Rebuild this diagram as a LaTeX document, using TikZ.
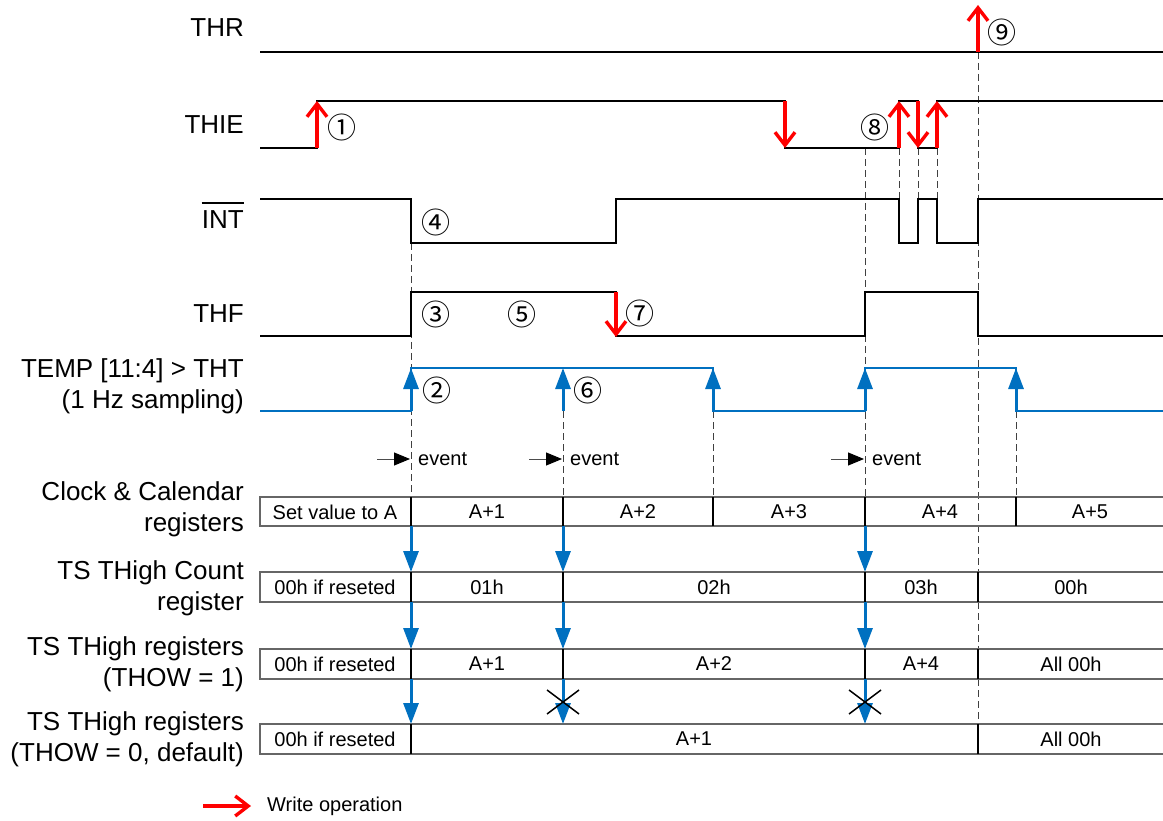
\documentclass[tikz,border=0pt]{standalone}
\usepackage{fontspec}
\setmainfont{Liberation Sans}
\newfontfamily\circfont{Noto Sans CJK JP}
\usetikzlibrary{arrows.meta}
\definecolor{tsblue}{RGB}{0,112,192}

\begin{document}
\begin{tikzpicture}[x=1pt, y=-1pt,
  sig/.style={line width=2.6pt, line join=miter},
  tmp/.style={line width=2.6pt, tsblue, line join=miter},
  wr/.style={red, line width=3.4pt, -{Straight Barb[length=13pt, width=20pt]}},
  smp/.style={tsblue, line width=3pt, -{Triangle[length=21pt, width=15pt]}},
  evt/.style={gray!60!black, line width=1pt, -{Triangle[length=16pt, width=13pt, fill=black, color=black]}},
  guide/.style={black!75, dash pattern=on 7pt off 4pt, line width=0.9pt},
  reg/.style={draw=black!60, line width=1.4pt},
  divider/.style={black, line width=1.1pt},
  lbl/.style={anchor=east, align=right, inner sep=0pt, font=\fontsize{26}{31}\selectfont},
  cell/.style={inner sep=0pt, font=\fontsize{20}{24}\selectfont},
  num/.style={inner sep=0pt, font=\circfont\fontsize{29}{32}\selectfont}]
  \useasboundingbox (0,0) rectangle (1163,821);

  % signal names (left)
  \node[lbl] (lThr)  at (244,28)  {THR};
  \node[lbl] (lThie) at (244,125) {THIE};
  \node[lbl] (lInt)  at (244,220) {INT};
  \draw[line width=1.4pt] ([yshift=8pt]lInt.north west) -- ([yshift=8pt]lInt.north east);
  \node[lbl] (lThf)  at (244,314) {THF};
  \node[lbl] (lTemp) at (244,386) {TEMP [11:4] > THT\\(1 Hz sampling)};
  \node[lbl] (lClk)  at (244,509) {Clock \& Calendar\\registers};
  \node[lbl] (lCnt)  at (244,588) {TS THigh Count\\register};
  \node[lbl] (lOw1)  at (244,664) {TS THigh registers\\(THOW = 1)};
  \node[lbl] (lOw0)  at (244,739) {TS THigh registers\\(THOW = 0, default)};

  % dashed guides (behind everything)
  \draw[guide] (411,243) -- (411,497);
  \foreach \x in {563, 713, 1016} {
    \draw[guide] (\x,411) -- (\x,497);
  }
  \draw[guide] (865,148) -- (865,497);
  \foreach \x in {899, 918, 937} {
    \draw[guide] (\x,148) -- (\x,199);
  }
  \draw[guide] (978,52) -- (978,754);

  % waveforms
  \draw[sig] (260,52) -- (1165,52);
  \draw[sig] (260,148) -- (317,148) -- (317,101) -- (785,101) -- (785,148) -- (899,148)
             -- (899,101) -- (918,101) -- (918,148) -- (937,148) -- (937,101) -- (1165,101);
  \draw[sig] (260,199) -- (411,199) -- (411,243) -- (616,243) -- (616,199) -- (899,199)
             -- (899,243) -- (918,243) -- (918,199) -- (937,199) -- (937,243) -- (978,243)
             -- (978,199) -- (1165,199);
  \draw[sig] (260,336) -- (411,336) -- (411,292) -- (616,292) -- (616,336) -- (865,336)
             -- (865,292) -- (978,292) -- (978,336) -- (1165,336);
  \draw[tmp] (260,411) -- (411,411) -- (411,368) -- (713,368) -- (713,411) -- (865,411)
             -- (865,368) -- (1016,368) -- (1016,411) -- (1165,411);

  % 1 Hz samples
  \foreach \x in {411, 563, 713, 865, 1016} {
    \draw[smp] (\x,411) -- (\x,368);
  }

  % write operations
  \draw[wr] (317,148) -- (317,101);
  \draw[wr] (785,101) -- (785,148);
  \draw[wr] (899,148) -- (899,101);
  \draw[wr] (918,101) -- (918,148);
  \draw[wr] (937,148) -- (937,101);
  \draw[wr] (616,292) -- (616,337);
  \draw[wr] (978,52) -- (978,5);

  % step numbers
  \node[num] (n1) at (342,127) {①};
  \node[num] (n2) at (437,390) {②};
  \node[num] (n3) at (436,314) {③};
  \node[num] (n4) at (436,222) {④};
  \node[num] (n5) at (522,314) {⑤};
  \node[num] (n6) at (588,390) {⑥};
  \node[num] (n7) at (640,313) {⑦};
  \node[num] (n8) at (875,127) {⑧};
  \node[num] (n9) at (1002,32) {⑨};

  % events
  \foreach \x/\name in {411/eA, 563/eB, 865/eC} {
    \draw[evt] (\x-34,459) -- (\x-1,459);
    \node[cell, anchor=west] (\name) at (\x+7,459) {event};
  }

  % Clock & Calendar registers
  \draw[reg] (260,497) rectangle (1170,526);
  \foreach \x in {411, 563, 713, 865, 1016} {
    \draw[divider] (\x,497) -- (\x,526);
  }
  \node[cell] (c0) at (335,512) {Set value to A};
  \node[cell] (c1) at (487,512) {A+1};
  \node[cell] (c2) at (638,512) {A+2};
  \node[cell] (c3) at (789,512) {A+3};
  \node[cell] (c4) at (940,512) {A+4};
  \node[cell] (c5) at (1090,512) {A+5};

  % TS THigh Count register
  \draw[reg] (260,572) rectangle (1170,602);
  \foreach \x in {411, 563, 865, 978} {
    \draw[divider] (\x,572) -- (\x,602);
  }
  \node[cell] (k0) at (335,587) {00h if reseted};
  \node[cell] (k1) at (487,587) {01h};
  \node[cell] (k2) at (714,587) {02h};
  \node[cell] (k3) at (921,587) {03h};
  \node[cell] (k4) at (1071,587) {00h};

  % TS THigh registers (THOW = 1)
  \draw[reg] (260,649) rectangle (1170,679);
  \foreach \x in {411, 563, 865, 978} {
    \draw[divider] (\x,649) -- (\x,679);
  }
  \node[cell] (p0) at (335,664) {00h if reseted};
  \node[cell] (p1) at (487,664) {A+1};
  \node[cell] (p2) at (714,664) {A+2};
  \node[cell] (p3) at (921,664) {A+4};
  \node[cell] (p4) at (1071,664) {All 00h};

  % TS THigh registers (THOW = 0)
  \draw[reg] (260,724) rectangle (1170,754);
  \foreach \x in {411, 978} {
    \draw[divider] (\x,724) -- (\x,754);
  }
  \node[cell] (q0) at (335,739) {00h if reseted};
  \node[cell] (q1) at (694,739) {A+1};
  \node[cell] (q2) at (1071,739) {All 00h};

  % latching into the registers
  \foreach \x in {411, 563, 865} {
    \draw[smp] (\x,526) -- (\x,572);
    \draw[smp] (\x,602) -- (\x,649);
  }
  \foreach \x in {411, 563, 865} {
    \draw[smp] (\x,679) -- (\x,724);
  }
  \foreach \x in {563, 865} {
    \draw[line width=1.5pt] (\x-16,690) -- (\x+16,714) (\x-16,714) -- (\x+16,690);
  }

  % legend
  \draw[wr] (203,806) -- (251,806);
  \node[cell, anchor=west] (legWr) at (267,806) {Write operation};
\end{tikzpicture}
\end{document}
